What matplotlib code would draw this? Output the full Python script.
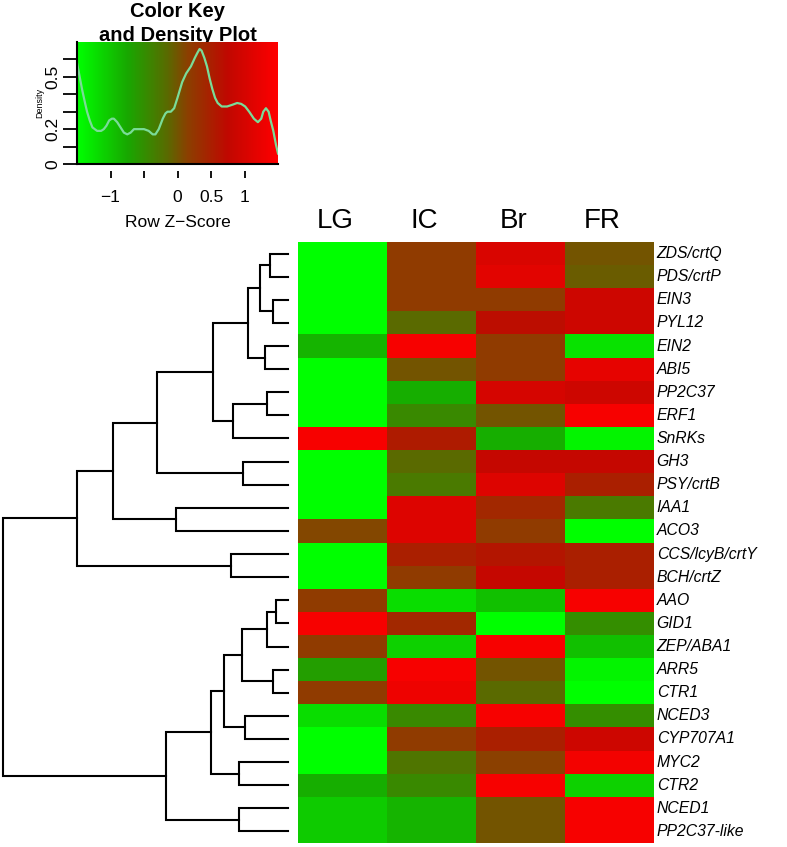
import numpy as np
import matplotlib.pyplot as plt
from matplotlib.colors import LinearSegmentedColormap

plt.rcParams['font.family'] = ['Liberation Sans', 'DejaVu Sans']

# genes in the order of the dendrogram (top to bottom)
genes = ["ZDS/crtQ", "PDS/crtP", "EIN3", "PYL12", "EIN2", "ABI5", "PP2C37", "ERF1",
         "SnRKs", "GH3", "PSY/crtB", "IAA1", "ACO3", "CCS/lcyB/crtY", "BCH/crtZ",
         "AAO", "GID1", "ZEP/ABA1", "ARR5", "CTR1", "NCED3", "CYP707A1", "MYC2",
         "CTR2", "NCED1", "PP2C37-like"]
stages = ["LG", "IC", "Br", "FR"]

# row z-scores
lg = [-1.5, -1.5, -1.5, -1.5, -0.85, -1.5, -1.5, -1.5, 1.4, -1.5, -1.5, -1.5, 0.1,
      -1.5, -1.5, 0.2, 1.4, 0.2, -0.65, 0.2, -1.2, -1.5, -1.5, -0.8, -1.05, -1.05]
ic = [0.2, 0.2, 0.2, -0.15, 1.4, 0.0, -0.8, -0.45, 0.55, -0.15, -0.3, 1.1, 1.1,
      0.5, 0.2, -1.2, 0.4, -1.1, 1.4, 1.3, -0.45, 0.2, -0.25, -0.45, -0.85, -0.85]
br = [1.05, 1.15, 0.2, 0.7, 0.2, 0.2, 1.0, 0.0, -0.8, 0.8, 1.1, 0.4, 0.2,
      0.6, 0.8, -0.95, -1.5, 1.4, 0.0, -0.15, 1.4, 0.5, 0.15, 1.4, 0.0, 0.0]
fr = [0.0, -0.05, 0.9, 0.9, -1.25, 1.2, 0.9, 1.4, -1.4, 0.8, 0.5, -0.3, -1.5,
      0.5, 0.5, 1.4, -0.5, -0.95, -1.4, -1.5, -0.5, 0.9, 1.35, -1.1, 1.4, 1.4]

# density curve of the key (z-score, density)
dens_z = [-1.5, -1.46, -1.42, -1.38, -1.35, -1.31, -1.27, -1.2, -1.14, -1.1, -1.06,
          -1.02, -0.98, -0.95, -0.9, -0.85, -0.8, -0.75, -0.7, -0.65, -0.58, -0.5,
          -0.43, -0.37, -0.33, -0.28, -0.22, -0.18, -0.15, -0.1, -0.05, 0.0, 0.07,
          0.13, 0.2, 0.26, 0.3, 0.33, 0.36, 0.4, 0.44, 0.48, 0.52, 0.56, 0.6, 0.66,
          0.74, 0.82, 0.89, 0.95, 1.01, 1.07, 1.14, 1.2, 1.25, 1.28, 1.32, 1.36,
          1.39, 1.43, 1.47, 1.5]
dens_y = [0.58, 0.5, 0.42, 0.35, 0.3, 0.25, 0.21, 0.19, 0.19, 0.2, 0.22,
          0.25, 0.26, 0.26, 0.24, 0.21, 0.18, 0.17, 0.18, 0.2, 0.2, 0.2,
          0.19, 0.17, 0.17, 0.2, 0.26, 0.29, 0.3, 0.3, 0.32, 0.38, 0.47,
          0.52, 0.56, 0.61, 0.64, 0.66, 0.65, 0.61, 0.56, 0.49, 0.43, 0.38, 0.35, 0.33,
          0.33, 0.34, 0.35, 0.345, 0.33, 0.3, 0.26, 0.24, 0.26, 0.3, 0.32, 0.3,
          0.25, 0.19, 0.11, 0.06]

# row clustering: (left, right, height); ids >= 26 refer to earlier merges
merges = [(0, 1, 18), (2, 3, 15), (26, 27, 28), (4, 5, 23), (28, 29, 40),
          (6, 7, 21), (31, 8, 55), (30, 32, 75), (9, 10, 45), (33, 34, 131),
          (11, 12, 112), (35, 36, 175), (13, 14, 57), (37, 38, 211),
          (15, 16, 12), (40, 17, 21), (18, 19, 15), (41, 42, 46), (20, 21, 43),
          (43, 44, 64), (22, 23, 49), (45, 46, 77), (24, 25, 49), (47, 48, 122),
          (39, 49, 285)]

cmap = LinearSegmentedColormap.from_list("rg", [(0, "#00FF00"), (0.25, "#18A800"),
                                               (0.45, "#5A6A00"), (0.55, "#8B4000"),
                                               (0.75, "#C00800"), (1, "#FF0000")])

W, H = 787, 847
fig = plt.figure(figsize=(W / 100, H / 100), dpi=100)

def px_axes(x0, y0, x1, y1):
    return fig.add_axes([x0 / W, 1 - y1 / H, (x1 - x0) / W, (y1 - y0) / H])

# heatmap
data = np.column_stack([lg, ic, br, fr])
n = len(genes)
ax = px_axes(298, 242, 654, 843)
ax.pcolormesh(np.arange(5), np.arange(n + 1), data, cmap=cmap, vmin=-1.5, vmax=1.5)
ax.set_xlim(0, 4)
ax.set_ylim(n, 0)
ax.set_xticks([])
ax.set_yticks([])
for s in ax.spines.values():
    s.set_visible(False)
for i, g in enumerate(genes):
    ax.text(4.03, i + 0.5, g, style='italic', fontsize=11.3, va='center', ha='left')
for j, s in enumerate(stages):
    ax.text(j + 0.42, -0.6, s, fontsize=20, ha='center', va='baseline')

# dendrogram
dax = px_axes(3, 242, 288, 843)
dax.set_xlim(285, 0)
dax.set_ylim(n, 0)
dax.axis('off')
pos = {i: (i + 0.5, 0) for i in range(n)}
for k, (a, b, h) in enumerate(merges):
    ya, ha = pos[a]
    yb, hb = pos[b]
    dax.plot([ha, h, h, hb], [ya, ya, yb, yb], color='black', lw=1.5,
             solid_joinstyle='miter', clip_on=False)
    pos[n + k] = ((ya + yb) / 2, h)

# colour key with density
kax = px_axes(77, 42, 278, 164)
kax.imshow(np.linspace(-1.5, 1.5, 300)[None, :], cmap=cmap, vmin=-1.5, vmax=1.5,
           extent=(-1.5, 1.5, 0, 0.7), aspect='auto')
kax.plot(dens_z, dens_y, color='#7ADC98', lw=1.6)
kax.set_xlim(-1.5, 1.5)
kax.set_ylim(0, 0.7)
kax.spines['top'].set_visible(False)
kax.spines['right'].set_visible(False)
kax.spines['bottom'].set_position(('outward', 5))
kax.spines['bottom'].set_visible(False)
kax.axhline(0, color='black', lw=1.5, clip_on=False)
kax.spines['left'].set_linewidth(1.5)
kax.set_xticks([-1, -0.5, 0, 0.5, 1])
kax.set_xticklabels(["\u22121", "", "0", "0.5", "1"], fontsize=12.5)
kax.tick_params(axis='x', length=5, width=1.3, pad=9)
kax.set_yticks([0, 0.1, 0.2, 0.3, 0.4, 0.5, 0.6])
kax.set_yticklabels(["0", "", "0.2", "", "", "0.5", ""], fontsize=12.5,
                    rotation=90, va='center')
kax.tick_params(axis='y', length=10, width=1.3, pad=2)
kax.set_xlabel("Row Z\u2212Score", fontsize=12.5, labelpad=7)
kax.set_ylabel("Density", fontsize=6.5, labelpad=1)

# title sits partly under the key box, as in the original
fig.text(177.5 / W, 1 - 17 / H, "Color Key", fontsize=14.5, fontweight='bold',
         ha='center', va='baseline', zorder=-1)
fig.text(177.5 / W, 1 - 41 / H, "and Density Plot", fontsize=14.5, fontweight='bold',
         ha='center', va='baseline', zorder=-1)

fig.savefig("out.png", dpi=100)
